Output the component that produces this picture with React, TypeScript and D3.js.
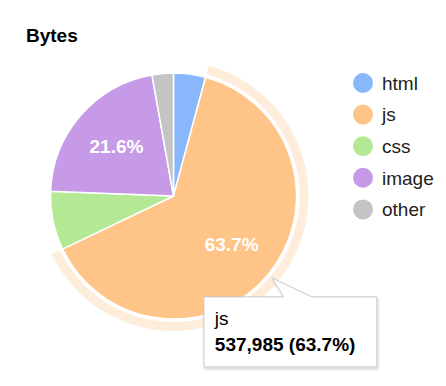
import React from 'react';
import * as d3 from 'd3';

const categories = ['html', 'js', 'css', 'image', 'other'];
const bytes = [35470, 537985, 65030, 182430, 23650];
const colors = ['#88b7fc', '#ffc488', '#b3e994', '#c69ae6', '#c4c4c4'];
const hovered = 'js';

const W = 446;
const H = 386;
const cx = 173.5;
const cy = 196;
const R = 123;
const font = 'Arial, "Liberation Sans", sans-serif';

export default function App() {
  const total = d3.sum(bytes);
  const pie = d3.pie<number>().sort(null).value((d) => d);
  const arcs = pie(bytes);
  const arc = d3.arc<d3.PieArcDatum<number>>().innerRadius(0).outerRadius(R);
  const ring = d3.arc<d3.PieArcDatum<number>>().innerRadius(R + 3).outerRadius(R + 12);
  const labelArc = d3.arc<d3.PieArcDatum<number>>().innerRadius(R * 0.615).outerRadius(R * 0.615);
  const pct = d3.format('.1%');
  const num = d3.format(',');

  const hi = categories.indexOf(hovered);
  const ha = arcs[hi];
  const mid = (ha.startAngle + ha.endAngle) / 2;
  const tip = [cx + Math.sin(mid) * (R + 5), cy - Math.cos(mid) * (R + 5)];
  const bx = tip[0] - 68;
  const by = tip[1] + 19;
  const bw = 173;
  const bh = 70;
  const tooltipPath = `M${bx},${by} H${tip[0] + 12} L${tip[0]},${tip[1]} L${tip[0] + 40},${by} H${bx + bw} V${by + bh} H${bx} Z`;

  return (
    <svg width={W} height={H} style={{ position: 'absolute', left: 0, top: 0 }} fontFamily={font}>
      <defs>
        <filter id="sh" x="-10%" y="-10%" width="130%" height="140%">
          <feDropShadow dx="1" dy="2" stdDeviation="1.2" floodColor="#000" floodOpacity="0.18" />
        </filter>
      </defs>
      <rect width={W} height={H} fill="#fff" />
      <text x={26} y={42} fontSize={19} fontWeight="bold" fill="#000">Bytes</text>

      <g transform={`translate(${cx},${cy})`}>
        <path d={ring(ha) || ''} fill={colors[hi]} opacity={0.3} />
        {arcs.map((a, i) => (
          <path key={categories[i]} d={arc(a) || ''} fill={colors[i]} stroke="#fff" strokeWidth={1.5} />
        ))}
        {arcs.map((a, i) => {
          const share = bytes[i] / total;
          if (share < 0.1) return null;
          const [x, y] = labelArc.centroid(a);
          return (
            <text key={categories[i]} x={x} y={y} dy="0.36em" textAnchor="middle" fontSize={19} fontWeight="bold" fill="#fff">
              {pct(share)}
            </text>
          );
        })}
      </g>

      <g>
        {categories.map((c, i) => (
          <g key={c} transform={`translate(363,${83 + i * 31.6})`}>
            <circle r={10} fill={colors[i]} />
            <text x={19} dy="0.36em" fontSize={19} fill="#222">{c}</text>
          </g>
        ))}
      </g>

      <g>
        <path d={tooltipPath} fill="#fff" stroke="#c8c8c8" strokeWidth={1} filter="url(#sh)" />
        <text x={bx + 11} y={by + 28} fontSize={19} fill="#000">{hovered}</text>
        <text x={bx + 11} y={by + 54} fontSize={19} fontWeight="bold" fill="#000">
          {`${num(bytes[hi])} (${pct(bytes[hi] / total)})`}
        </text>
      </g>
    </svg>
  );
}
